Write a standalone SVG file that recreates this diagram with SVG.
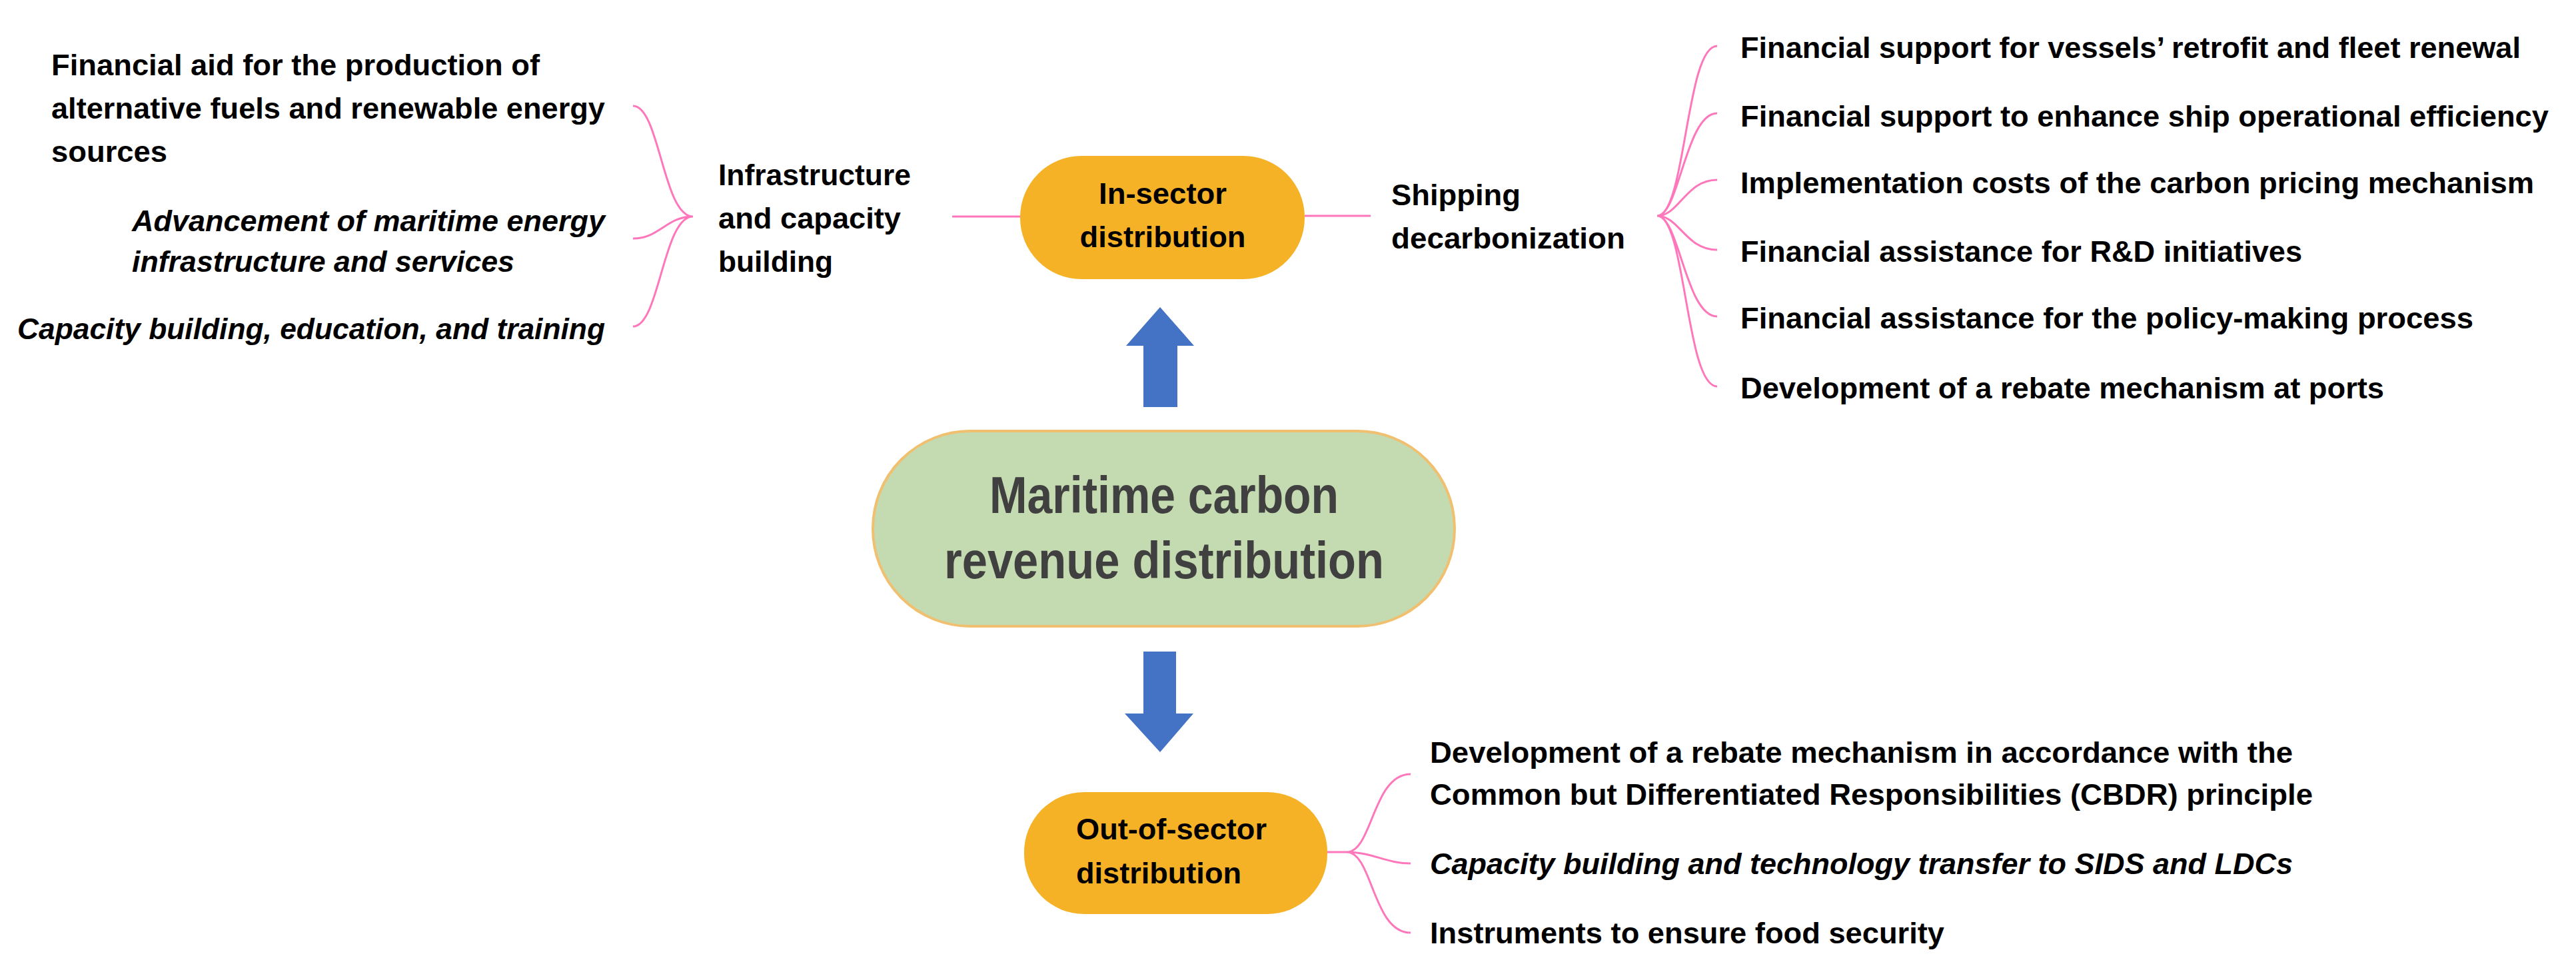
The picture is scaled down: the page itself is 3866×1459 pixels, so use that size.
<svg xmlns="http://www.w3.org/2000/svg" width="3866" height="1459" viewBox="0 0 3866 1459">
<style>
.t{font-family:"Liberation Sans",Arial,sans-serif;font-weight:bold;font-size:44px;fill:#000}
.i{font-style:italic}
.c{text-anchor:middle}
.m{font-family:"Liberation Sans",Arial,sans-serif;font-weight:bold;font-size:78px;fill:#404040;text-anchor:middle}
.pk{fill:none;stroke:#ff77bb;stroke-width:3}
.or{fill:#f6b226}
.ar{fill:#4472c4}
</style>
<rect width="3866" height="1459" fill="#fff"/>
<g id="connectors">
<path class="pk" d="M1429 325H1531M1958 324H2057M1992 1279H2021"/>
<path class="pk" d="M950 159C990 159 995 325 1040 325M950 358C990 358 1000 325 1040 325M950 490C990 490 995 325 1040 325"/>
<path class="pk" d="M2577 69C2530 69 2530 324 2487 324M2577 170C2530 170 2520 324 2487 324M2577 270C2530 270 2520 324 2487 324M2577 375C2530 375 2520 324 2487 324M2577 475C2530 475 2520 324 2487 324M2577 580C2530 580 2530 324 2487 324"/>
<path class="pk" d="M2117 1162C2060 1162 2060 1279 2021 1279M2117 1296C2080 1296 2060 1279 2021 1279M2117 1400C2060 1400 2060 1279 2021 1279"/>
<polygon class="ar" points="1741,461 1792,519 1767,519 1767,611 1716,611 1716,519 1690,519"/>
<polygon class="ar" points="1716,978 1765,978 1765,1071 1791,1071 1741,1129 1688,1071 1716,1071"/>
</g>
<g id="main">
<rect x="1310" y="647" width="873" height="293" rx="146" fill="#c4dab0" stroke="#f0c070" stroke-width="4"/>
<text class="m" x="1747" y="770" textLength="524" lengthAdjust="spacingAndGlyphs">Maritime carbon</text>
<text class="m" x="1747" y="868" textLength="660" lengthAdjust="spacingAndGlyphs">revenue distribution</text>
</g>
<g id="in-sector">
<rect class="or" x="1531" y="234" width="427" height="185" rx="92"/>
<text class="t c" x="1745" y="306" textLength="192" lengthAdjust="spacingAndGlyphs">In-sector</text>
<text class="t c" x="1745" y="371" textLength="249" lengthAdjust="spacingAndGlyphs">distribution</text>
</g>
<g id="out-sector">
<rect class="or" x="1537" y="1189" width="455" height="183" rx="90"/>
<text class="t c" x="1758" y="1260" textLength="286" lengthAdjust="spacingAndGlyphs">Out-of-sector</text>
<text class="t c" x="1739" y="1326" textLength="248" lengthAdjust="spacingAndGlyphs">distribution</text>
</g>
<g id="infra">
<text class="t" x="1078" y="278" textLength="289" lengthAdjust="spacingAndGlyphs">Infrastructure</text>
<text class="t" x="1078" y="343" textLength="274" lengthAdjust="spacingAndGlyphs">and capacity</text>
<text class="t" x="1078" y="408" textLength="172" lengthAdjust="spacingAndGlyphs">building</text>
</g>
<g id="infra-items">
<text class="t" x="77" y="113" textLength="733" lengthAdjust="spacingAndGlyphs">Financial aid for the production of</text>
<text class="t" x="77" y="178" textLength="831" lengthAdjust="spacingAndGlyphs">alternative fuels and renewable energy</text>
<text class="t" x="77" y="243" textLength="174" lengthAdjust="spacingAndGlyphs">sources</text>
<text class="t i" x="198" y="347" textLength="710" lengthAdjust="spacingAndGlyphs">Advancement of maritime energy</text>
<text class="t i" x="198" y="408" textLength="574" lengthAdjust="spacingAndGlyphs">infrastructure and services</text>
<text class="t i" x="26" y="509" textLength="882" lengthAdjust="spacingAndGlyphs">Capacity building, education, and training</text>
</g>
<g id="shipping">
<text class="t" x="2088" y="308" textLength="194" lengthAdjust="spacingAndGlyphs">Shipping</text>
<text class="t" x="2088" y="373" textLength="351" lengthAdjust="spacingAndGlyphs">decarbonization</text>
</g>
<g id="shipping-items">
<text class="t" x="2612" y="87" textLength="1171" lengthAdjust="spacingAndGlyphs">Financial support for vessels’ retrofit and fleet renewal</text>
<text class="t" x="2612" y="190" textLength="1213" lengthAdjust="spacingAndGlyphs">Financial support to enhance ship operational efficiency</text>
<text class="t" x="2612" y="290" textLength="1191" lengthAdjust="spacingAndGlyphs">Implementation costs of the carbon pricing mechanism</text>
<text class="t" x="2612" y="393" textLength="843" lengthAdjust="spacingAndGlyphs">Financial assistance for R&amp;D initiatives</text>
<text class="t" x="2612" y="493" textLength="1100" lengthAdjust="spacingAndGlyphs">Financial assistance for the policy-making process</text>
<text class="t" x="2612" y="598" textLength="966" lengthAdjust="spacingAndGlyphs">Development of a rebate mechanism at ports</text>
</g>
<g id="out-items">
<text class="t" x="2146" y="1145" textLength="1295" lengthAdjust="spacingAndGlyphs">Development of a rebate mechanism in accordance with the</text>
<text class="t" x="2146" y="1208" textLength="1325" lengthAdjust="spacingAndGlyphs">Common but Differentiated Responsibilities (CBDR) principle</text>
<text class="t i" x="2146" y="1312" textLength="1295" lengthAdjust="spacingAndGlyphs">Capacity building and technology transfer to SIDS and LDCs</text>
<text class="t" x="2146" y="1416" textLength="772" lengthAdjust="spacingAndGlyphs">Instruments to ensure food security</text>
</g>
</svg>
